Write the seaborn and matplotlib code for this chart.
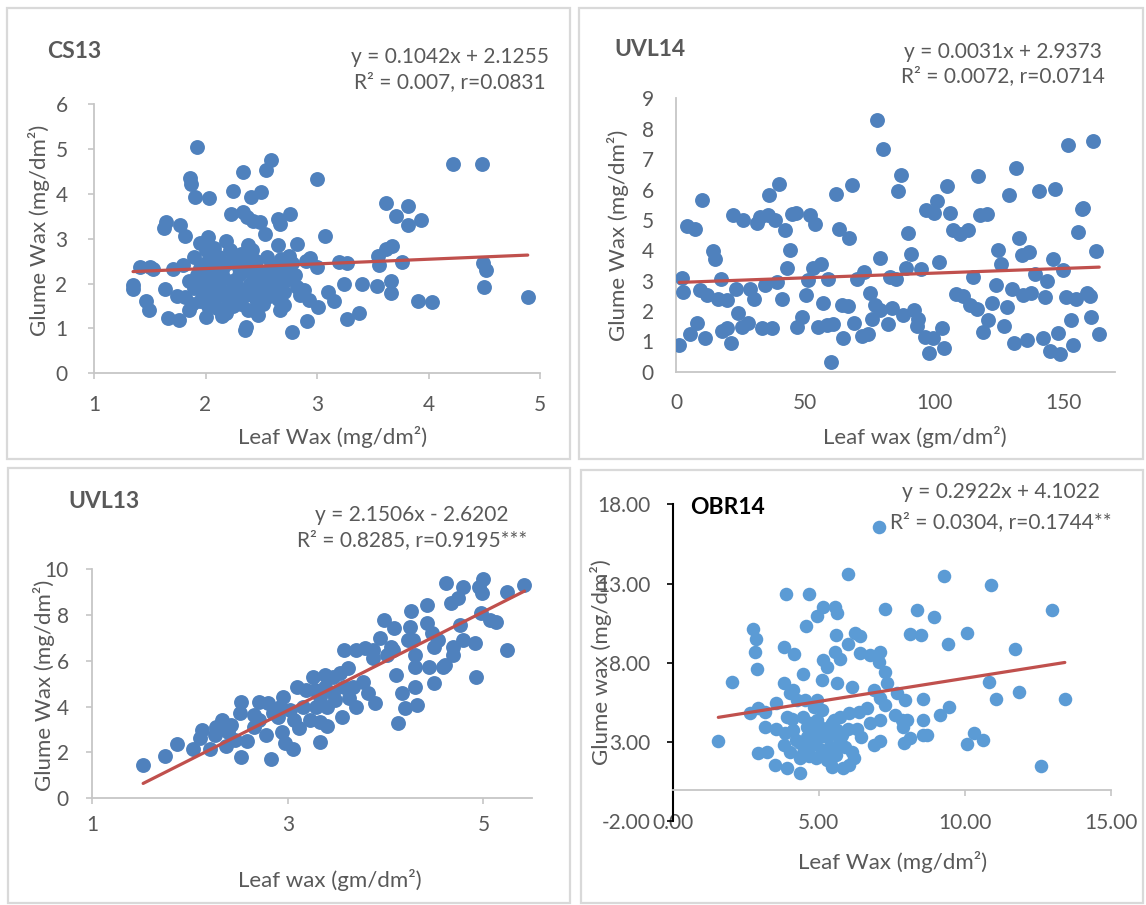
import numpy as np
import pandas as pd
import matplotlib
matplotlib.use("Agg")
import matplotlib.pyplot as plt
import seaborn as sns
from matplotlib.patches import Rectangle

# ---------------- data ----------------
cs13_x = [1.92, 2.59, 2.54, 2.34, 4.22, 4.48, 3.00, 1.86, 1.87, 1.91, 2.03, 2.25, 2.41, 2.50,
          2.23, 2.34, 2.37, 2.43, 2.49, 2.53, 2.65, 2.76, 2.67, 1.65, 1.63, 1.77, 1.82, 3.07,
          3.62, 3.82, 3.71, 3.82, 3.93, 3.67, 3.62, 3.55, 3.56, 3.76, 4.49, 4.52, 4.50, 4.89,
          3.91, 4.03, 3.54, 3.66, 3.66, 3.40, 3.24, 3.20, 3.27, 3.38, 3.27, 2.91, 2.78,
          2.35, 2.36, 2.00, 2.15, 1.66, 1.76, 1.49, 1.47, 1.35, 1.35, 1.41, 1.50, 1.53,
          1.64, 1.74, 1.71, 1.80, 1.85, 2.94, 3.00, 2.75, 2.82, 2.65, 2.72, 2.82, 2.88,
          2.93, 3.01, 3.10, 3.15, 2.47, 2.43, 2.67, 2.70]
cs13_y = [5.05, 4.77, 4.54, 4.49, 4.68, 4.68, 4.33, 4.35, 4.23, 3.93, 3.90, 4.06, 3.93, 4.04,
          3.56, 3.60, 3.49, 3.39, 3.38, 3.10, 3.45, 3.55, 3.34, 3.38, 3.23, 3.30, 3.06, 3.06,
          3.80, 3.73, 3.50, 3.30, 3.43, 2.83, 2.76, 2.61, 2.41, 2.47, 2.45, 2.30, 1.93, 1.70,
          1.61, 1.59, 1.95, 2.06, 1.79, 2.00, 1.98, 2.47, 2.45, 1.33, 1.20, 1.17, 0.91,
          0.96, 1.03, 1.26, 1.27, 1.22, 1.18, 1.41, 1.61, 1.96, 1.87, 2.37, 2.37, 2.32,
          1.87, 1.72, 2.32, 2.41, 1.41, 2.56, 2.37, 2.62, 2.89, 2.87, 2.07, 1.93, 1.85,
          1.63, 1.48, 1.81, 1.61, 1.29, 1.41, 1.41, 1.52]
cs13_core_x = [1.95, 2.02, 2.00, 2.08, 2.05, 2.12, 2.18, 2.22, 2.20, 2.25,
               1.90, 1.95, 1.98, 2.05, 2.10, 2.15, 2.30, 2.35, 2.38, 2.42,
               2.45, 2.48, 2.55, 2.60, 2.58, 2.52, 2.40, 2.33, 2.28, 2.20,
               2.12, 2.05, 1.98, 1.90, 1.85, 1.82, 1.88, 1.95, 2.02, 2.10,
               2.18, 2.25, 2.32, 2.38, 2.45, 2.50, 2.55, 2.62, 2.65, 2.70,
               2.72, 2.68, 2.80, 2.85, 2.90, 2.78, 2.62, 2.42, 2.30, 2.15,
               1.92, 2.00, 2.08, 2.16, 2.24, 2.32, 2.40, 2.48, 2.56, 2.64,
               1.96, 2.04, 2.12, 2.20, 2.28, 2.36, 2.44, 2.52, 2.60, 2.68]
cs13_core_y = [2.90, 3.05, 2.75, 2.80, 2.55, 2.60, 2.95, 2.75, 2.45, 2.50,
               2.60, 2.35, 2.10, 2.20, 2.00, 2.30, 2.20, 2.60, 2.85, 2.75,
               2.50, 2.25, 2.60, 2.40, 2.15, 1.95, 2.00, 1.85, 1.70, 1.60,
               1.75, 1.90, 1.75, 1.90, 2.05, 1.70, 1.55, 1.60, 1.50, 1.45,
               1.35, 1.50, 1.55, 1.40, 1.65, 1.80, 1.70, 1.90, 1.65, 1.80,
               2.35, 2.55, 2.20, 1.75, 2.50, 2.45, 2.00, 2.40, 2.35, 2.15,
               2.20, 2.45, 2.35, 2.15, 2.05, 2.65, 2.25, 2.05, 2.30, 2.05,
               1.85, 1.65, 1.95, 1.80, 1.95, 1.75, 1.85, 1.55, 1.80, 2.25]

uvl14_x = [77.9, 79.9, 151.7, 161.4, 131.7, 87.0, 85.7, 116.7, 128.8, 140.5,
           146.6, 104.7, 67.9, 61.9, 40.0, 36.1, 10.1, 4.1, 7.3, 21.9,
           26.0, 31.2, 32.5, 35.7, 38.3, 42.1, 44.7, 46.4, 51.8, 53.9,
           63.0, 67.0, 89.8, 96.7, 99.8, 100.8, 106.0, 107.0, 109.8, 113.0,
           117.6, 120.1, 132.6, 124.6, 133.7, 136.6, 155.6, 156.9, 157.5, 162.4,
           14.2, 15.1, 44.1, 78.9, 90.9, 101.8, 145.7, 2.2, 2.8, 17.3,
           9.3, 11.9, 16.4, 19.6, 23.2, 8.0, 5.4, 1.3, 11.2, 17.7,
           19.6, 21.1, 24.1, 25.4, 28.0, 30.2, 28.6, 34.4, 38.9, 33.1,
           37.0, 43.1, 41.1, 46.9, 48.6, 50.1, 51.2, 53.1, 56.1, 55.0,
           58.3, 60.8, 57.0, 58.9, 59.9, 64.7, 64.1, 66.4, 69.0, 69.9,
           72.7, 71.8, 74.4, 75.0, 77.0, 75.9, 78.9, 83.7, 81.9, 82.8,
           84.9, 87.9, 88.9, 94.7, 92.0, 93.7, 93.1, 96.3, 99.3, 102.7,
           98.0, 103.6, 108.3, 111.1, 113.7, 116.3, 114.7, 120.8, 118.6, 122.1,
           123.7, 125.7, 127.9, 126.8, 129.8, 134.3, 137.5, 138.8, 142.7, 143.6,
           130.8, 135.6, 141.8, 144.6, 148.5, 147.8, 153.6, 152.6, 149.8, 150.8,
           154.7, 158.8, 160.1, 160.7, 163.7]
uvl14_y = [8.30, 7.32, 7.48, 7.59, 6.71, 6.49, 5.94, 6.46, 5.83, 5.95,
           6.03, 6.12, 6.14, 5.84, 6.18, 5.83, 5.66, 4.79, 4.71, 5.15,
           4.99, 4.90, 5.10, 5.15, 5.01, 4.68, 5.21, 5.23, 5.15, 4.88,
           4.71, 4.39, 4.57, 5.32, 5.23, 5.63, 5.23, 4.66, 4.55, 4.68,
           5.15, 5.21, 4.41, 4.00, 3.84, 3.95, 4.61, 5.37, 5.39, 3.97,
           3.98, 3.71, 4.02, 3.73, 3.89, 3.60, 3.70, 3.10, 2.63, 3.05,
           2.69, 2.52, 2.38, 2.36, 2.72, 1.62, 1.24, 0.88, 1.12, 1.35,
           1.43, 0.93, 1.95, 1.48, 1.59, 2.41, 2.74, 2.85, 2.96, 1.43,
           1.43, 3.40, 2.38, 1.48, 1.81, 2.52, 3.02, 3.40, 3.56, 1.46,
           1.54, 1.57, 2.27, 3.07, 0.33, 1.10, 2.19, 2.16, 1.62, 3.04,
           3.29, 1.17, 1.23, 2.58, 2.19, 1.72, 2.03, 2.11, 1.56, 3.13,
           3.07, 1.86, 3.43, 3.38, 2.03, 1.75, 1.50, 1.15, 1.10, 1.43,
           0.60, 0.77, 2.55, 2.49, 2.19, 2.08, 3.13, 1.70, 1.32, 2.27,
           2.85, 3.54, 2.14, 1.50, 2.71, 2.52, 2.58, 3.23, 2.47, 2.98,
           0.96, 1.06, 1.10, 0.69, 0.58, 1.26, 0.88, 1.70, 3.34, 2.45,
           2.41, 2.58, 2.50, 1.81, 1.23]

uvl13_x = [1.52, 1.74, 1.87, 2.03, 2.12, 2.10, 2.20, 2.25, 2.33, 2.39,
           2.37, 2.46, 2.52, 2.51, 2.52, 2.58, 2.65, 2.71, 2.71, 2.80,
           2.78, 2.83, 2.90, 2.94, 2.95, 2.97, 3.05, 3.02, 3.11, 3.19,
           3.26, 3.23, 3.33, 3.33, 3.28, 3.33, 3.38, 3.46, 3.40, 3.40,
           3.48, 3.55, 3.57, 3.62, 3.57, 3.63, 3.70, 3.70, 3.79, 3.77,
           3.82, 3.89, 3.87, 3.94, 3.98, 4.01, 4.06, 4.09, 4.11, 4.17,
           4.13, 4.23, 4.25, 4.26, 4.20, 4.32, 4.30, 4.30, 4.30, 4.42,
           4.42, 4.47, 4.54, 4.44, 4.49, 4.59, 4.62, 4.67, 4.74, 4.79,
           4.76, 4.69, 4.69, 4.79, 4.91, 4.92, 4.95, 5.00, 4.99, 4.98,
           5.07, 5.13, 5.24, 5.24, 5.42, 2.27, 2.42, 2.65, 2.85, 3.09,
           3.16, 3.29, 3.46, 3.53, 3.87, 4.08, 4.28, 4.49, 4.61, 3.67,
           3.38, 3.06, 2.92]
uvl13_y = [1.45, 1.86, 2.37, 2.15, 2.98, 2.62, 2.14, 2.76, 3.42, 2.91,
           2.30, 2.54, 4.22, 3.71, 1.79, 2.50, 3.63, 3.42, 4.22, 4.14,
           2.76, 1.72, 3.56, 2.91, 4.43, 2.40, 2.15, 3.85, 3.05, 4.72,
           5.31, 3.42, 3.34, 2.47, 4.72, 4.43, 5.38, 5.31, 3.15, 4.00,
           4.29, 3.56, 6.47, 5.67, 4.87, 4.36, 4.00, 6.47, 6.54, 5.06,
           4.58, 4.14, 6.10, 6.98, 7.78, 6.25, 6.61, 7.41, 5.38, 4.58,
           3.27, 6.90, 7.49, 8.18, 3.92, 4.07, 6.25, 5.74, 4.87, 8.43,
           7.63, 7.19, 6.90, 5.74, 5.01, 5.74, 9.38, 8.50, 8.72, 9.23,
           7.56, 6.61, 6.25, 6.90, 6.79, 5.31, 9.23, 9.55, 8.94, 8.07,
           7.78, 7.70, 9.01, 6.47, 9.30, 3.13, 3.20, 3.13, 3.71, 4.87,
           4.00, 4.00, 4.58, 5.45, 6.47, 6.47, 6.90, 6.61, 5.81, 4.87,
           4.87, 3.42, 4.00]

obr14_x = [7.07, 5.98, 9.29, 10.87, 3.88, 4.65, 5.14, 4.93, 5.54, 5.62,
           7.25, 8.36, 8.95, 12.98, 4.55, 2.76, 2.84, 2.82, 2.88, 5.59,
           6.24, 6.42, 8.10, 8.50, 10.05, 9.42, 11.70, 5.98, 3.81, 4.16,
           5.56, 5.73, 5.14, 5.27, 6.40, 6.76, 7.10, 7.04, 7.27, 7.33,
           4.47, 5.10, 5.62, 6.13, 2.02, 3.79, 4.13, 10.83, 11.86, 11.04,
           13.41, 8.55, 6.87, 7.10, 7.27, 7.67, 7.96, 9.44, 9.13, 8.55,
           7.61, 7.84, 8.01, 7.10, 6.74, 6.65, 6.36, 6.02, 5.73, 5.50,
           7.86, 8.56, 8.70, 8.13, 7.92, 6.45, 6.87, 7.10, 10.05, 10.30,
           10.62, 12.61, 1.56, 2.65, 2.93, 3.16, 3.54, 3.16, 3.90, 4.08,
           3.54, 3.84, 4.13, 3.79, 3.22, 2.93, 3.50, 3.90, 4.34, 4.36,
           4.53, 4.93, 4.47, 4.70, 4.93, 4.59, 4.87, 5.10, 5.27, 5.45,
           4.36, 4.70, 5.45, 5.62, 5.73, 5.50, 5.84, 6.02, 6.19, 6.13,
           5.27, 5.39, 5.68, 4.82, 5.05, 4.02, 4.25, 4.82, 5.10,
           4.60, 4.75, 5.00, 5.20, 5.35, 5.55, 5.80, 6.00, 4.45, 4.65,
           4.90, 5.15, 5.40, 5.60, 5.90, 6.30, 4.20, 4.00]
obr14_y = [16.57, 13.59, 13.48, 12.89, 12.31, 12.33, 11.49, 10.94, 11.49, 11.15,
           11.38, 11.32, 10.90, 11.32, 10.31, 10.16, 9.49, 8.69, 7.64, 9.74,
           9.89, 9.70, 9.81, 9.74, 9.91, 9.16, 8.90, 9.16, 9.01, 8.55,
           8.69, 8.27, 8.17, 7.75, 8.59, 8.48, 8.69, 8.06, 7.43, 6.70,
           7.29, 6.91, 6.70, 6.49, 6.80, 6.74, 6.28, 6.80, 6.13, 5.71,
           5.71, 5.71, 6.28, 5.75, 5.33, 6.07, 5.65, 5.23, 4.70, 4.39,
           4.70, 4.39, 4.39, 4.39, 4.18, 5.12, 4.91, 4.85, 4.60, 4.39,
           3.97, 3.44, 3.44, 3.23, 2.92, 3.29, 2.81, 3.08, 2.87, 3.55,
           3.13, 1.49, 3.08, 4.81, 5.12, 4.91, 5.44, 3.92, 4.60, 4.43,
           3.80, 3.55, 3.76, 2.81, 2.39, 2.29, 1.55, 1.34, 1.03, 1.97,
           5.65, 5.65, 4.60, 4.18, 4.39, 3.34, 2.92, 2.50, 1.87, 1.45,
           2.92, 2.71, 4.18, 3.76, 3.13, 2.50, 1.34, 1.55, 1.97, 2.39,
           3.34, 2.71, 2.92, 3.76, 3.34, 6.07, 5.65, 5.23, 5.02,
           3.95, 3.55, 4.00, 3.60, 3.95, 3.50, 3.45, 3.85, 2.30, 2.10,
           2.00, 2.20, 1.95, 2.20, 2.70, 3.85, 3.10, 2.40]

panel_titles = ["CS13", "UVL14", "UVL13", "OBR14"]
trend_slope = [0.1042, 0.0031, 2.1506, 0.2922]
trend_icpt = [2.1255, 2.9373, -2.6202, 4.1022]
eq_line1 = ["y = 0.1042x + 2.1255", "y = 0.0031x + 2.9373",
            "y = 2.1506x - 2.6202", "y = 0.2922x + 4.1022"]
eq_line2 = ["R\u00b2 = 0.007, r=0.0831", "R\u00b2 = 0.0072, r=0.0714",
            "R\u00b2 = 0.8285, r=0.9195***", "R\u00b2 = 0.0304, r=0.1744**"]
x_labels = ["Leaf Wax (mg/dm\u00b2)", "Leaf wax (gm/dm\u00b2)",
            "Leaf wax (gm/dm\u00b2)", "Leaf Wax (mg/dm\u00b2)"]
y_labels = ["Glume Wax (mg/dm\u00b2)", "Glume Wax (mg/dm\u00b2)",
            "Glume Wax (mg/dm\u00b2)", "Glume wax (mg/dm\u00b2)"]
cs13_xticks = [1, 2, 3, 4, 5]
cs13_yticks = [0, 1, 2, 3, 4, 5, 6]
uvl14_xticks = [0, 50, 100, 150]
uvl14_yticks = [0, 1, 2, 3, 4, 5, 6, 7, 8, 9]
uvl13_xticks = [1, 3, 5]
uvl13_yticks = [0, 2, 4, 6, 8, 10]
obr14_xticks = [0, 5, 10, 15]
obr14_yticks = [-2, 3, 8, 13, 18]

# ---------------- style ----------------
sns.set_theme(style="white")
plt.rcParams['font.family'] = ['Lato', 'DejaVu Sans']

W, H = 1146, 905
fig = plt.figure(figsize=(W / 100, H / 100), dpi=100)

GRAY_TXT = "#595959"
AX_GRAY = "#C6C6C6"
BLUE = "#4F81BD"
BLUE2 = "#5B9BD5"
RED = "#C0504D"
TICK_FS = 15
LAB_FS = 16
EQ_FS = 15
TITLE_FS = 16.5


def add_axes(x0, x1, ytop, ybot):
    return fig.add_axes([x0 / W, 1 - ybot / H, (x1 - x0) / W, (ybot - ytop) / H])


def ftext(x, y, s, **kw):
    fig.text(x / W, 1 - y / H, s, **kw)


# panel borders
for (x0, y0, x1, y1) in [(7, 8, 570, 459), (579, 8, 1143, 459),
                         (8, 468, 570, 903), (581, 470, 1143, 903)]:
    fig.add_artist(Rectangle((x0 / W, 1 - y1 / H), (x1 - x0) / W, (y1 - y0) / H,
                             transform=fig.transFigure, fill=False,
                             edgecolor="#D9D9D9", linewidth=1.6))


def draw(ax, xs, ys, k, color, size):
    df = pd.DataFrame({"x": xs, "y": ys})
    sns.scatterplot(data=df, x="x", y="y", ax=ax, color=color, s=size,
                    linewidth=0, zorder=3)
    lx = np.array([min(xs), max(xs)])
    tdf = pd.DataFrame({"x": lx, "y": trend_slope[k] * lx + trend_icpt[k]})
    sns.lineplot(data=tdf, x="x", y="y", ax=ax, color=RED, linewidth=2.3, zorder=4)
    ax.set_xlabel("")
    ax.set_ylabel("")
    ax.set_facecolor("none")
    for sp in ["top", "right"]:
        ax.spines[sp].set_visible(False)
    for sp in ["left", "bottom"]:
        ax.spines[sp].set_color(AX_GRAY)
        ax.spines[sp].set_linewidth(1.3)
    ax.tick_params(labelsize=TICK_FS, labelcolor=GRAY_TXT, color=AX_GRAY, width=1.2)


# ---- Panel 1: CS13
ax1 = add_axes(94, 540, 104.5, 373)
draw(ax1, cs13_x + cs13_core_x, cs13_y + cs13_core_y, 0, BLUE, 115)
ax1.set_xlim(1, 5)
ax1.set_ylim(0, 6)
ax1.set_xticks(cs13_xticks)
ax1.set_yticks(cs13_yticks)
ax1.tick_params(axis="both", direction="out", length=4, left=True, bottom=True)
ax1.tick_params(axis="x", pad=12)
ax1.tick_params(axis="y", pad=15)

# ---- Panel 2: UVL14
ax2 = add_axes(676, 1115, 98.5, 371.7)
draw(ax2, uvl14_x, uvl14_y, 1, BLUE, 115)
ax2.set_xlim(0, 169.8)
ax2.set_ylim(0, 9)
ax2.set_xticks(uvl14_xticks)
ax2.set_yticks(uvl14_yticks)
ax2.tick_params(axis="both", length=0)
ax2.tick_params(axis="x", pad=15)
ax2.tick_params(axis="y", pad=16)

# ---- Panel 3: UVL13
ax3 = add_axes(92.3, 532.3, 569, 798.3)
draw(ax3, uvl13_x, uvl13_y, 2, BLUE, 115)
ax3.set_xlim(1, 5.5)
ax3.set_ylim(0, 10)
ax3.set_xticks(uvl13_xticks)
ax3.set_yticks(uvl13_yticks)
ax3.tick_params(axis="both", direction="out", length=4, left=True, bottom=True)
ax3.tick_params(axis="x", pad=8)
ax3.tick_params(axis="y", pad=13)

# ---- Panel 4: OBR14
ax4 = add_axes(672.7, 1111.3, 504.3, 821.3)
draw(ax4, obr14_x, obr14_y, 3, BLUE2, 95)
ax4.set_xlim(0, 15)
ax4.set_ylim(-2, 18)
ax4.set_xticks(obr14_xticks)
ax4.set_yticks(obr14_yticks)
ax4.set_xticklabels([f"{v:.2f}" for v in obr14_xticks])
ax4.set_yticklabels([f"{v:.2f}" for v in obr14_yticks])
ax4.spines["left"].set_color("black")
ax4.spines["left"].set_linewidth(1.5)
ax4.spines["bottom"].set_position(("data", 0))
ax4.tick_params(axis="x", direction="out", length=4, bottom=True, pad=13, color=AX_GRAY)
ax4.tick_params(axis="y", direction="out", length=4, left=True, pad=12, color="black")

# ---------------- texts ----------------
title_pos = [(47, 52), (614, 50), (68, 502), (690, 508)]
title_col = [GRAY_TXT, GRAY_TXT, GRAY_TXT, "black"]
eq_pos = [(449.5, 57, 82), (1003, 52, 76), (412, 515, 540), (1001, 492, 522)]
xlab_pos = [(333, 437), (914.5, 437), (330, 880), (893, 862)]
ylab_pos = [(39, 230), (618, 235), (44, 685), (601, 662)]

for k in range(4):
    tx, ty = title_pos[k]
    ftext(tx, ty, panel_titles[k], ha="left", va="center", fontsize=TITLE_FS,
          fontweight="bold", color=title_col[k])
    ex, e1, e2 = eq_pos[k]
    ftext(ex, e1, eq_line1[k], ha="center", va="center", fontsize=EQ_FS, color=GRAY_TXT)
    ftext(ex, e2, eq_line2[k], ha="center", va="center", fontsize=EQ_FS, color=GRAY_TXT)
    lx, ly = xlab_pos[k]
    ftext(lx, ly, x_labels[k], ha="center", va="center", fontsize=LAB_FS, color=GRAY_TXT)
    yx, yy = ylab_pos[k]
    ftext(yx, yy, y_labels[k], ha="center", va="center", fontsize=LAB_FS,
          color=GRAY_TXT, rotation=90)

fig.savefig("out.png", dpi=100, facecolor="white")
